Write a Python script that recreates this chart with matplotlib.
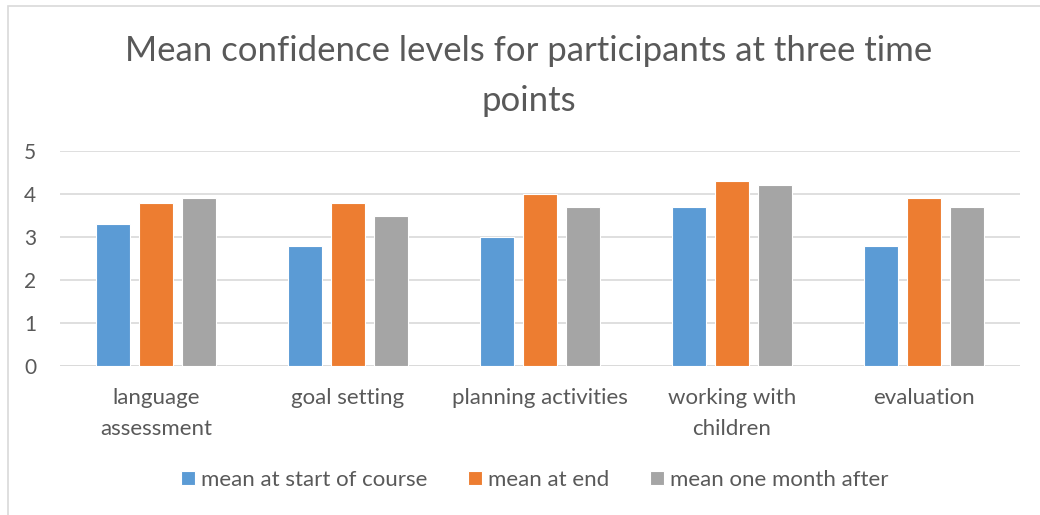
import numpy as np
import matplotlib.pyplot as plt
from matplotlib.patches import Rectangle

categories = ['language\nassessment', 'goal setting', 'planning activities',
              'working with\nchildren', 'evaluation']
series_names = ['mean at start of course', 'mean at end', 'mean one month after']
start_vals = [3.3, 2.8, 3.0, 3.7, 2.8]
end_vals = [3.8, 3.8, 4.0, 4.3, 3.9]
month_vals = [3.9, 3.5, 3.7, 4.2, 3.7]
colors = ['#5B9BD5', '#ED7D31', '#A5A5A5']

plt.rcParams['font.family'] = ['Lato', 'DejaVu Sans']
txt = '#595959'

fig = plt.figure(figsize=(10.4, 5.15), dpi=100)
ax = fig.add_axes([60 / 1040, 1 - 366 / 515, 960 / 1040, 215 / 515])

# chart border (left and top visible)
fig.patches.append(Rectangle((8 / 1040, -0.1), 1.2, 1 - 6 / 515 + 0.1,
                             transform=fig.transFigure, fill=False,
                             edgecolor='#D9D9D9', lw=1.2))

x = np.arange(len(categories))
w = 0.177
step = 0.222
for i, vals in enumerate([start_vals, end_vals, month_vals]):
    ax.bar(x + (i - 1) * step, vals, w, color=colors[i], edgecolor='white',
           linewidth=0.8, label=series_names[i], zorder=3)

ax.set_xlim(-0.5, len(categories) - 0.5)
ax.set_ylim(0, 5)
ax.set_yticks(range(6))
ax.yaxis.grid(True, color='#D9D9D9', lw=1.2, zorder=0)
for s in ax.spines.values():
    s.set_visible(False)
ax.tick_params(axis='x', length=0, labelsize=16, colors=txt, pad=16)
ax.tick_params(axis='y', length=0, labelsize=15, colors=txt, pad=17)
ax.set_xticks(x)
ax.set_xticklabels(categories, linespacing=1.65)
ax.axhline(0, color='#D9D9D9', lw=1.2, zorder=1)

fig.text(529 / 1040, 1 - 76 / 515, 'Mean confidence levels for participants at three time\npoints',
         ha='center', va='center', fontsize=25, color=txt, linespacing=1.7)

fig.legend(loc='center', bbox_to_anchor=(535 / 1040, 1 - 480 / 515), ncol=3, frameon=False,
           fontsize=16, labelcolor=txt, handlelength=0.63, handleheight=0.63,
           handletextpad=0.27, columnspacing=1.84)

fig.savefig('out.png', dpi=100)
